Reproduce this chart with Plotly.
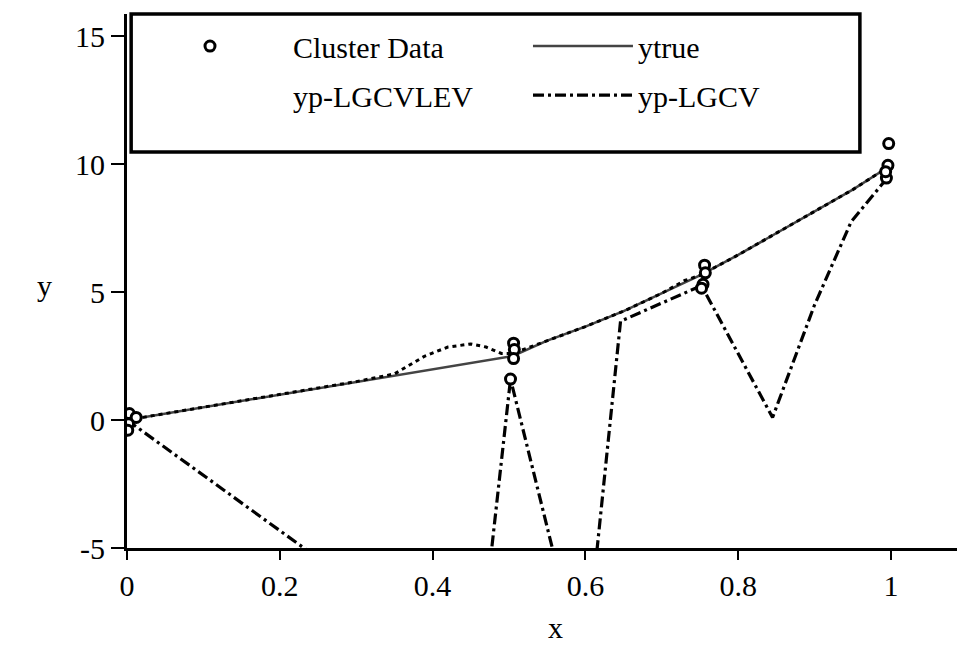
import plotly.graph_objects as go

# ---- data ----
cluster_x = [0.003, 0.012, 0.002, 0.001,
             0.506, 0.507, 0.506, 0.502,
             0.756, 0.757, 0.754, 0.752,
             0.997, 0.996, 0.994, 0.993]
cluster_y = [0.25, 0.1, -0.15, -0.4,
             3.0, 2.75, 2.4, 1.6,
             6.05, 5.75, 5.3, 5.15,
             10.8, 9.95, 9.45, 9.7]

ytrue_x = [0, 0.1, 0.2, 0.3, 0.4, 0.505, 0.55, 0.6, 0.65, 0.7, 0.75, 0.8, 0.85, 0.9, 0.95, 1.0]
ytrue_y = [0, 0.5, 1.0, 1.5, 2.0, 2.5, 3.1, 3.65, 4.25, 4.95, 5.65, 6.45, 7.3, 8.15, 9.0, 9.95]

lev_x = [0, 0.1, 0.2, 0.3, 0.35, 0.39, 0.42, 0.45, 0.47, 0.49, 0.505, 0.55, 0.6, 0.65, 0.7, 0.73, 0.75, 0.8, 0.85, 0.9, 0.95, 1.0]
lev_y = [0, 0.5, 1.0, 1.5, 1.8, 2.5, 2.85, 2.97, 2.85, 2.6, 2.6, 3.1, 3.65, 4.25, 4.95, 5.45, 5.65, 6.45, 7.3, 8.15, 9.0, 9.95]

lgcv_x = [0, 0.25, 0.47, 0.502, 0.56, 0.612, 0.646, 0.752, 0.845, 0.9, 0.948, 0.995]
lgcv_y = [0, -5.4, -7.0, 1.6, -5.4, -6.0, 3.86, 5.25, 0.1, 4.5, 7.75, 9.45]

x_ticks = [0, 0.2, 0.4, 0.6, 0.8, 1]
x_ticklabels = ["0", "0.2", "0.4", "0.6", "0.8", "1"]
y_ticks = [-5, 0, 5, 10, 15]
y_ticklabels = ["-5", "0", "5", "10", "15"]

FONT = "Liberation Serif"
FS = 30

fig = go.Figure()
fig.add_trace(go.Scatter(x=ytrue_x, y=ytrue_y, mode="lines", name="ytrue",
                         line=dict(color="#444444", width=2.5), legend="legend2"))
fig.add_trace(go.Scatter(x=lev_x, y=lev_y, mode="lines", name="yp-LGCVLEV",
                         line=dict(color="black", width=3, dash="4px,4px"), showlegend=False))
fig.add_trace(go.Scatter(x=lgcv_x, y=lgcv_y, mode="lines", name="yp-LGCV",
                         line=dict(color="black", width=3.2, dash="11px,4px,3px,4px"), legend="legend4"))
fig.add_trace(go.Scatter(x=cluster_x, y=cluster_y, mode="markers", name="Cluster Data",
                         marker=dict(symbol="circle", size=10, color="white",
                                     line=dict(color="black", width=3)),
                         legend="legend"))
# legend entry for yp-LGCVLEV (the reference shows its label without a visible sample)
fig.add_trace(go.Scatter(x=[None], y=[None], mode="lines", name="yp-LGCVLEV",
                         line=dict(color="black", width=0), legend="legend3",
                         hoverinfo="skip"))

def leg(x, y, iw):
    return dict(x=x, y=y, xanchor="left", yanchor="middle", bgcolor="rgba(0,0,0,0)",
                borderwidth=0, itemwidth=iw, font=dict(family=FONT, size=FS, color="black"),
                orientation="h")

fig.update_layout(
    width=957, height=649,
    margin=dict(l=127, r=0, t=14, b=101),
    paper_bgcolor="white", plot_bgcolor="white",
    font=dict(family=FONT, size=FS, color="black"),
    xaxis=dict(range=[0, 1.0864], tickvals=x_ticks, ticktext=x_ticklabels,
               showgrid=False, zeroline=False, showline=True, linecolor="black", linewidth=3,
               ticks="outside", ticklen=9, tickwidth=2, tickcolor="black",
               tickfont=dict(family=FONT, size=FS)),
    yaxis=dict(range=[-5, 15.86], tickvals=y_ticks, ticktext=y_ticklabels,
               showgrid=False, zeroline=False, showline=True, linecolor="black", linewidth=3,
               ticks="outside", ticklen=13, tickwidth=2, tickcolor="black",
               tickfont=dict(family=FONT, size=FS)),
    legend=leg(0.0, 0.94, 156),
    legend2=leg(0.4831, 0.94, 100),
    legend3=leg(0.1518, 0.848, 30),
    legend4=leg(0.4831, 0.848, 100),
    showlegend=True,
    shapes=[dict(type="rect", xref="paper", yref="paper", x0=0.005, x1=0.883, y0=0.7416, y1=1.0,
                 line=dict(color="black", width=3.5), fillcolor="white", layer="above")],
    annotations=[
        dict(text="y", xref="paper", yref="paper", x=-0.0988, y=0.4925, showarrow=False,
             xanchor="center", yanchor="middle", font=dict(family=FONT, size=FS)),
        dict(text="x", xref="paper", yref="paper", x=0.5157, y=-0.1835, showarrow=False,
             xanchor="center", yanchor="bottom", font=dict(family=FONT, size=FS)),
    ],
)

fig.write_html("out.html")
